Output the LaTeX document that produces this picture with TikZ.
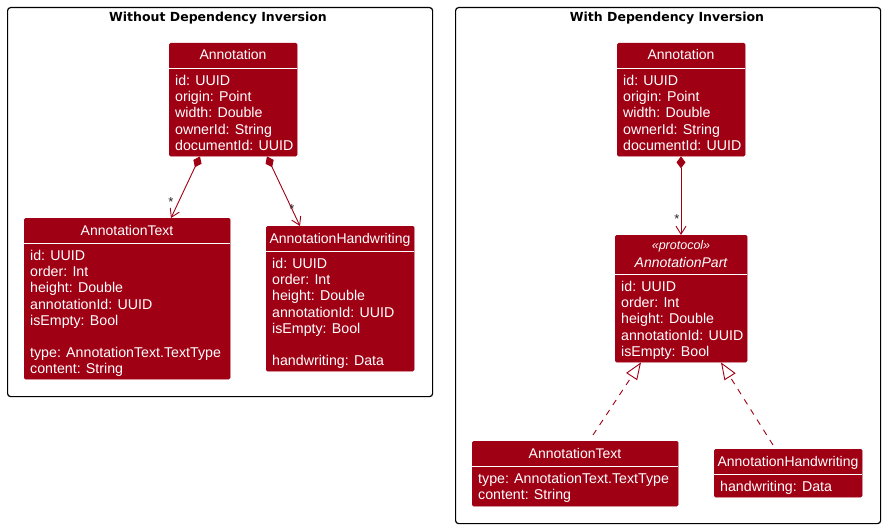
\documentclass[tikz,border=0pt]{standalone}
\usepackage{fontspec}
\setmainfont{Liberation Sans}
\newfontfamily\titlefont{DejaVu Sans}
\usetikzlibrary{arrows.meta,calc}
\definecolor{umlred}{RGB}{160,0,20}
\tikzset{
  frame/.style={draw=black,line width=1.2pt,rounded corners=3pt},
  classbox/.style={fill=umlred,draw=umlred,rounded corners=1.5pt,anchor=north west,inner sep=0pt},
  sepline/.style={draw=white,line width=0.9pt},
  ctitle/.style={anchor=base,inner sep=0pt,text=white,font=\fontsize{14}{16}\selectfont},
  attr/.style={anchor=base west,inner sep=0pt,text=white,font=\fontsize{14.2}{16}\selectfont},
  ftitle/.style={anchor=base,inner sep=0pt,font=\titlefont\bfseries\fontsize{12.5}{14}\selectfont},
  mult/.style={anchor=base,inner sep=0pt,font=\fontsize{13}{14}\selectfont,text=black!85},
  comp/.style={draw=umlred,line width=0.9pt,{Diamond[length=12pt,width=9pt,fill=umlred]}-{Straight Barb[length=8pt,width=10pt]}},
  real/.style={draw=umlred,line width=0.9pt,dash pattern=on 6pt off 6pt,-{Triangle[open,length=17pt,width=13pt,fill=white]}},
}
\begin{document}
\begin{tikzpicture}[x=1pt,y=-1pt]
\useasboundingbox (0,0) rectangle (884,527);
% frames
\node[frame,anchor=north west,minimum width=425pt,minimum height=389pt,inner sep=0pt] (frL) at (7,7) {};
\node[frame,anchor=north west,minimum width=425pt,minimum height=516pt,inner sep=0pt] (frR) at (455,7) {};
\node[ftitle] (tL) at (218,22) {Without Dependency Inversion};
\node[ftitle] (tR) at (667,22) {With Dependency Inversion};

% ---------- left ----------
\node[classbox,minimum width=128pt,minimum height=113pt] (annL) at (169,43) {};
\draw[sepline] (169,68) -- (297,68);
\node[ctitle] at (233,60) {Annotation};
\node[attr] at (175,85) {id: UUID};
\node[attr] at (175,101) {origin: Point};
\node[attr] at (175,117.5) {width: Double};
\node[attr] at (175,134) {ownerId: String};
\node[attr] at (175,150) {documentId: UUID};

\node[classbox,minimum width=206pt,minimum height=161pt] (textL) at (24,218) {};
\draw[sepline] (24,243) -- (230,243);
\node[ctitle] at (127,235) {AnnotationText};
\node[attr] at (30,260) {id: UUID};
\node[attr] at (30,276) {order: Int};
\node[attr] at (30,292.5) {height: Double};
\node[attr] at (30,309) {annotationId: UUID};
\node[attr] at (30,325) {isEmpty: Bool};
\node[attr] at (30,357) {type: AnnotationText.TextType};
\node[attr] at (30,373) {content: String};

\node[classbox,minimum width=148pt,minimum height=145pt] (handL) at (266,226) {};
\draw[sepline] (266,251) -- (414,251);
\node[ctitle] at (340,243) {AnnotationHandwriting};
\node[attr] at (272,268) {id: UUID};
\node[attr] at (272,284) {order: Int};
\node[attr] at (272,300.5) {height: Double};
\node[attr] at (272,317) {annotationId: UUID};
\node[attr] at (272,333) {isEmpty: Bool};
\node[attr] at (272,365) {handwriting: Data};

\draw[comp] ($(annL.south west)+(31,0)$) -- ($(textL.north west)+(147,0)$);
\draw[comp] ($(annL.south west)+(98,0)$) -- ($(handL.north west)+(34,0)$);
\node[mult] at (171,206) {*};
\node[mult] at (292,213) {*};

% ---------- right ----------
\node[classbox,minimum width=128pt,minimum height=113pt] (annR) at (617,43) {};
\draw[sepline] (617,68) -- (745,68);
\node[ctitle] at (681,60) {Annotation};
\node[attr] at (623,85) {id: UUID};
\node[attr] at (623,101) {origin: Point};
\node[attr] at (623,117.5) {width: Double};
\node[attr] at (623,134) {ownerId: String};
\node[attr] at (623,150) {documentId: UUID};

\node[classbox,minimum width=132pt,minimum height=127pt] (partR) at (615,235) {};
\draw[sepline] (615,274) -- (747,274);
\node[ctitle,font=\itshape\fontsize{12.5}{13}\selectfont] at (681,249) {«protocol»};
\node[ctitle,font=\itshape\fontsize{14}{16}\selectfont] at (681,267) {AnnotationPart};
\node[attr] at (621,291) {id: UUID};
\node[attr] at (621,307) {order: Int};
\node[attr] at (621,323.5) {height: Double};
\node[attr] at (621,340) {annotationId: UUID};
\node[attr] at (621,356) {isEmpty: Bool};

\node[classbox,minimum width=206pt,minimum height=65pt] (textR) at (472,441) {};
\draw[sepline] (472,466) -- (678,466);
\node[ctitle] at (575,458) {AnnotationText};
\node[attr] at (478,483) {type: AnnotationText.TextType};
\node[attr] at (478,499) {content: String};

\node[classbox,minimum width=148pt,minimum height=48pt] (handR) at (714,449) {};
\draw[sepline] (714,474) -- (862,474);
\node[ctitle] at (788,466) {AnnotationHandwriting};
\node[attr] at (720,491) {handwriting: Data};

\draw[comp] ($(annR.south west)+(64,0)$) -- ($(partR.north west)+(66,0)$);
\node[mult] at (677,223) {*};

\draw[real] ($(textR.north west)+(121,-6)$) -- ($(partR.south west)+(26,0)$);
\draw[real] ($(handR.north west)+(59,-4)$) -- ($(partR.south west)+(106,0)$);
\end{tikzpicture}
\end{document}
